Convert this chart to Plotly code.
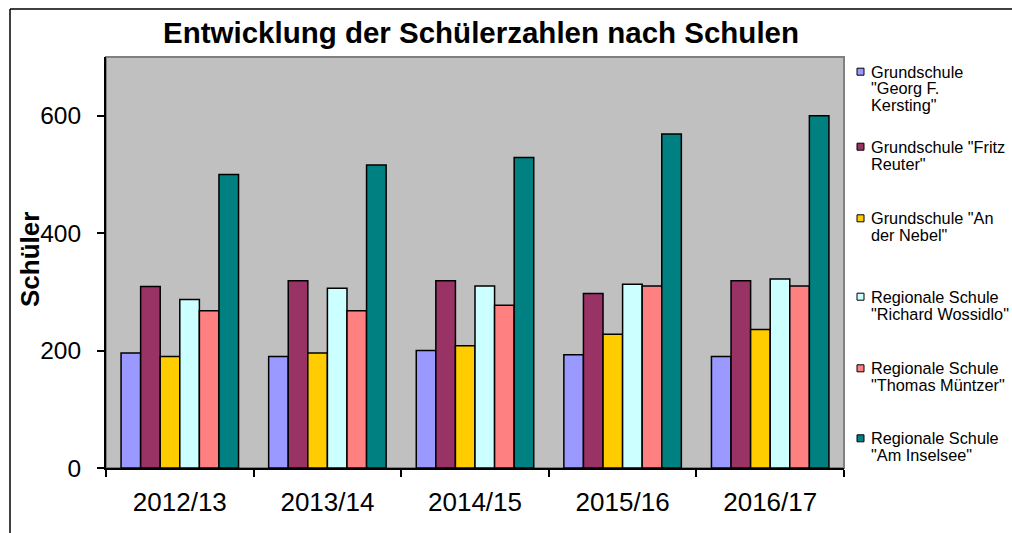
import plotly.graph_objects as go

years = ["2012/13", "2013/14", "2014/15", "2015/16", "2016/17"]
series_names = [
    ['Grundschule', '"Georg F.', 'Kersting"'],
    ['Grundschule "Fritz', 'Reuter"'],
    ['Grundschule "An', 'der Nebel"'],
    ['Regionale Schule', '"Richard Wossidlo"'],
    ['Regionale Schule', '"Thomas Müntzer"'],
    ['Regionale Schule', '"Am Inselsee"'],
]
georg_kersting = [196, 190, 200, 193, 190]
fritz_reuter = [309, 319, 319, 297, 319]
an_der_nebel = [190, 196, 208, 228, 236]
richard_wossidlo = [287, 306, 310, 313, 322]
thomas_muentzer = [268, 268, 277, 310, 310]
am_inselsee = [500, 516, 529, 569, 600]
y_ticks = [0, 200, 400, 600]

values = [georg_kersting, fritz_reuter, an_der_nebel, richard_wossidlo, thomas_muentzer, am_inselsee]
colors = ["#9999FF", "#993366", "#FFCC00", "#CCFFFF", "#FF8080", "#008080"]

W, H = 1012, 533
L, R, T, B = 106, 844, 57, 468

def px(x):
    return (x - L) / (R - L)

def py(y):
    return (B - y) / (B - T)

fig = go.Figure()
for name, vals, col in zip(series_names, values, colors):
    fig.add_trace(go.Bar(
        x=years, y=vals, name=" ".join(name),
        marker=dict(color=col, line=dict(color="black", width=1.5)),
        showlegend=False,
    ))

shapes = []
annotations = []
# plot area border (gray) behind
shapes.append(dict(type="rect", xref="paper", yref="paper", x0=0, x1=1, y0=0, y1=1,
                   line=dict(color="#808080", width=2), fillcolor="#C0C0C0", layer="below"))
# outer chart frame (left and top edges visible)
shapes.append(dict(type="line", xref="paper", yref="paper", x0=px(10), x1=px(10), y0=py(9), y1=py(540),
                   line=dict(color="black", width=1.5)))
shapes.append(dict(type="line", xref="paper", yref="paper", x0=px(10), x1=px(1020), y0=py(9), y1=py(9),
                   line=dict(color="black", width=1.5)))

# manual legend
first_line_y = [71.7, 146.7, 218.3, 296.7, 368.3, 438.3]
line_h = 16.8
for names, col, y0 in zip(series_names, colors, first_line_y):
    shapes.append(dict(type="rect", xref="paper", yref="paper",
                       x0=px(857), x1=px(864), y0=py(y0 - 3.5), y1=py(y0 + 3.5),
                       line=dict(color="black", width=1), fillcolor=col))
    for i, ln in enumerate(names):
        annotations.append(dict(text=ln, xref="paper", yref="paper", x=px(869), y=py(y0 + i * line_h),
                                xanchor="left", yanchor="middle", showarrow=False,
                                font=dict(family="Liberation Sans, Arial", size=16.3, color="black")))

# y-axis title
annotations.append(dict(text="<b>Schüler</b>", xref="paper", yref="paper", x=px(30), y=py(260),
                        xanchor="center", yanchor="middle", showarrow=False, textangle=-90,
                        font=dict(family="Liberation Sans, Arial", size=26, color="black")))

fig.update_layout(
    width=W, height=H,
    margin=dict(l=L, r=W - R, t=T, b=H - B, pad=0),
    paper_bgcolor="white", plot_bgcolor="#C0C0C0",
    title=dict(text="<b>Entwicklung der Schülerzahlen nach Schulen</b>", xref="container",
               x=481 / W, xanchor="center", yref="container", y=1 - 33 / H, yanchor="middle",
               font=dict(family="Liberation Sans, Arial", size=29.5, color="black")),
    barmode="group", bargap=0.204, bargroupgap=0,
    shapes=shapes, annotations=annotations,
    xaxis=dict(showline=True, linecolor="black", linewidth=2, ticks="outside", tickson="boundaries",
               ticklen=7, tickwidth=2, tickcolor="black", showgrid=False,
               tickfont=dict(family="Liberation Sans, Arial", size=26, color="black"),
               ticklabelstandoff=10),
    yaxis=dict(range=[0, 700], tickvals=y_ticks, showline=True, linecolor="black", linewidth=2,
               ticks="outside", ticklen=7, tickwidth=2, tickcolor="black", showgrid=False,
               zeroline=False,
               tickfont=dict(family="Liberation Sans, Arial", size=24.5, color="black"),
               ticklabelstandoff=11),
)

fig.write_html("out.html", config={"displayModeBar": False},
               post_script="document.body.style.margin='0px';document.body.style.overflow='hidden';")
